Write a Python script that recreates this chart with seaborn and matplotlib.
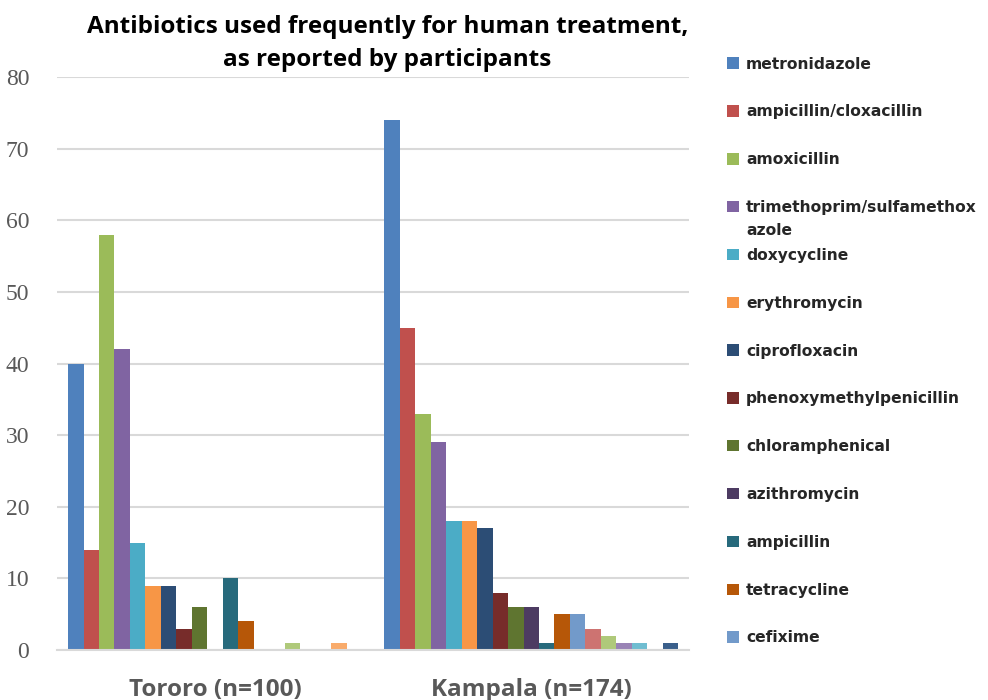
import pandas as pd
import matplotlib.pyplot as plt
import seaborn as sns

# data
sites = ["Tororo (n=100)", "Kampala (n=174)"]
antibiotics = ["metronidazole", "ampicillin/cloxacillin", "amoxicillin",
               "trimethoprim/sulfamethox", "doxycycline", "erythromycin",
               "ciprofloxacin", "phenoxymethylpenicillin", "chloramphenical",
               "azithromycin", "ampicillin", "tetracycline", "cefixime",
               "other 14", "other 15", "other 16", "other 17", "other 18", "other 19"]
tororo = [40, 14, 58, 42, 15, 9, 9, 3, 6, 0, 10, 4, 0, 0, 1, 0, 0, 1, 0]
kampala = [74, 45, 33, 29, 18, 18, 17, 8, 6, 6, 1, 5, 5, 3, 2, 1, 1, 0, 1]
n_legend = 13

colors = ["#4F81BD", "#C0504D", "#9BBB59", "#8064A2", "#4BACC6", "#F79646",
          "#2C4D75", "#772C2A", "#5F7530", "#4D3B62", "#276A7C", "#B65708",
          "#729ACA", "#CD7371", "#AFC97A", "#9983B5", "#6FBDD1", "#F9AB6B",
          "#3A5F8B"]

df = pd.DataFrame({
    "site": [sites[0]] * len(antibiotics) + [sites[1]] * len(antibiotics),
    "antibiotic": antibiotics * 2,
    "count": tororo + kampala,
})

sns.set_style("white")
fig = plt.figure(figsize=(9.88, 7), dpi=100)
ax = fig.add_axes([0.0577, 0.0714, 0.64, 0.8186])

sns.barplot(data=df, x="site", y="count", hue="antibiotic", hue_order=antibiotics,
            palette=colors, width=0.93, saturation=1, edgecolor="none",
            errorbar=None, ax=ax)

ax.set_xlim(-0.5, 1.5)
ax.set_ylim(0, 80)
ax.set_yticks(range(0, 81, 10))
ax.grid(axis="y", color="#D9D9D9", linewidth=1.5)
ax.set_axisbelow(True)
for s in ["top", "right", "left"]:
    ax.spines[s].set_visible(False)
ax.spines["bottom"].set_color("#D9D9D9")
ax.spines["bottom"].set_linewidth(1.5)
ax.tick_params(axis="both", length=0)
ax.set_xlabel("")
ax.set_ylabel("")

for lab in ax.get_yticklabels():
    lab.set_fontfamily("Liberation Serif")
    lab.set_fontsize(17)
    lab.set_color("#595959")
ax.tick_params(axis="y", pad=20)
for lab in ax.get_xticklabels():
    lab.set_fontfamily("Open Sans")
    lab.set_fontweight("bold")
    lab.set_fontsize(17.5)
    lab.set_color("#595959")
ax.tick_params(axis="x", pad=20)

fig.text(0.392, 0.978, "Antibiotics used frequently for human treatment,\nas reported by participants",
         ha="center", va="top", fontsize=17.5, fontweight="bold", family="Open Sans",
         color="black", linespacing=1.5)

handles, labels = ax.get_legend_handles_labels()
leg = ax.legend(handles[:n_legend], labels[:n_legend], loc="upper left",
                bbox_to_anchor=(0.73, 0.928), bbox_transform=fig.transFigure,
                frameon=False, prop={"family": "DejaVu Sans", "weight": "bold", "size": 11.2},
                handlelength=0.75, handleheight=0.75, handletextpad=0.45,
                labelspacing=2.11, borderaxespad=0)

fig.canvas.draw()
renderer = fig.canvas.get_renderer()
bb = leg.get_texts()[3].get_window_extent(renderer)
x0, y0 = fig.transFigure.inverted().transform((bb.x0, bb.y0))
fig.text(x0, y0 - 0.012, "azole", ha="left", va="top",
         family="DejaVu Sans", fontweight="bold", fontsize=11.2)

fig.savefig("out.png", dpi=100)
